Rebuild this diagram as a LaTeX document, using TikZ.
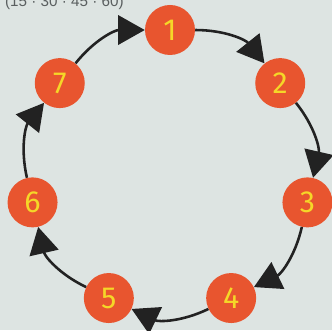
\documentclass[tikz,border=0pt]{standalone}
\usepackage{tikz}
\usetikzlibrary{arrows.meta}
\usepackage{xcolor}
\usepackage{fontspec}
\setsansfont{Liberation Sans}
\newfontfamily\digitfont{Fira Sans}
\definecolor{paper}{HTML}{DDE4E2}
\definecolor{ringred}{HTML}{E8552F}
\definecolor{digit}{HTML}{F5D728}
\definecolor{ink}{HTML}{222222}
\definecolor{note}{HTML}{5A5F60}

\begin{document}
\begin{tikzpicture}[
  dot/.style={circle,fill=ringred,minimum size=1.5cm,inner sep=0pt,text=digit,font=\digitfont\fontsize{26}{26}\selectfont},
  flow/.style={-{Triangle[length=0.8cm,width=0.88cm]},line width=2.2pt,draw=ink,bend left=25.7},
]
  \fill[paper] (-5.1,-4.77) rectangle (4.86,5.13);
  \useasboundingbox (-5.1,-4.77) rectangle (4.86,5.13);

  \node[anchor=base west,text=note,font=\sffamily\fontsize{13}{13}\selectfont] (scale) at (-5.07,4.93) {(15 · 30 · 45 · 60)};

  \node[dot] (n1) at (90:4.23) {1};
  \node[dot] (n2) at (38.57:4.23) {2};
  \node[dot] (n3) at (-12.86:4.23) {3};
  \node[dot] (n4) at (-64.29:4.23) {4};
  \node[dot] (n5) at (-115.71:4.23) {5};
  \node[dot] (n6) at (-167.14:4.23) {6};
  \node[dot] (n7) at (141.43:4.23) {7};

  \draw[flow] (n1) to (n2);
  \draw[flow] (n2) to (n3);
  \draw[flow] (n3) to (n4);
  \draw[flow] (n4) to (n5);
  \draw[flow] (n5) to (n6);
  \draw[flow] (n6) to (n7);
  \draw[flow] (n7) to (n1);
\end{tikzpicture}
\end{document}
